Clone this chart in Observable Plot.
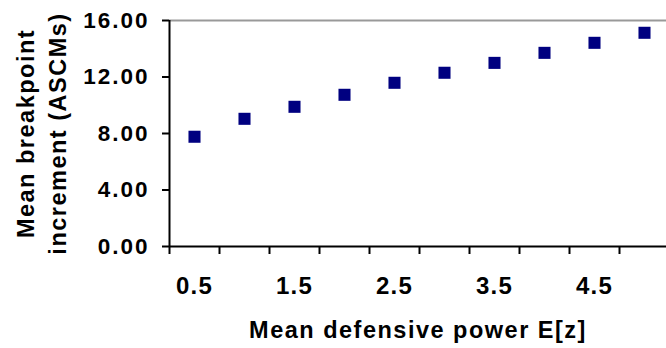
<!DOCTYPE html>
<html>
<head>
<meta charset="utf-8">
<script src="https://cdn.jsdelivr.net/npm/d3@7"></script>
<script src="https://cdn.jsdelivr.net/npm/@observablehq/plot@0.6"></script>
<style>
  html, body { margin: 0; padding: 0; background: #fff; }
</style>
</head>
<body>
<div id="chart"></div>
<script>
const defensivePower = [0.5, 1, 1.5, 2, 2.5, 3, 3.5, 4, 4.5, 5];
const breakpointIncrement = [7.77, 9.04, 9.89, 10.74, 11.59, 12.30, 13.00, 13.71, 14.42, 15.13];
const xTickLabels = [0.5, 1.5, 2.5, 3.5, 4.5];
const xTickMarks = [0.25, 0.75, 1.25, 1.75, 2.25, 2.75, 3.25, 3.75, 4.25, 4.75, 5.25];
const yTicks = [0, 4, 8, 12, 16];
const xTitle = "Mean defensive power E[z]";
const yTitle = "Mean breakpoint\nincrement (ASCMs)";

const data = defensivePower.map((x, i) => ({x, y: breakpointIncrement[i]}));

const chart = Plot.plot({
  width: 666,
  height: 348,
  marginTop: 20,
  marginBottom: 102,
  marginLeft: 169,
  marginRight: 0,
  style: {
    fontFamily: "'Liberation Sans', Arial, sans-serif",
    fontWeight: "bold",
    fontSize: "23px",
    color: "#000",
    background: "#fff",
    overflow: "visible"
  },
  x: {domain: [0.25, 5.25], range: [169, 669]},
  y: {domain: [0, 16], range: [246, 20]},
  marks: [
    Plot.ruleY([16], {stroke: "#999", strokeWidth: 2}),
    Plot.axisY(yTicks, {tickFormat: d3.format(".2f"), tickSize: 7, tickPadding: 13, strokeWidth: 2, label: null, fill: "#000", fontSize: 22.5}),
    Plot.axisX(xTickMarks, {tickFormat: () => "", tickSize: 8, strokeWidth: 2, label: null}),
    Plot.axisX(xTickLabels, {tickFormat: d => d.toFixed(1), tickSize: 0, tickPadding: 30, label: null, fill: "#000", fontSize: 24}),
    Plot.ruleX([0.25], {stroke: "#000", strokeWidth: 2}),
    Plot.ruleY([0], {stroke: "#000", strokeWidth: 2}),
    Plot.dot(data, {x: "x", y: "y", symbol: "square", r: 6.8, fill: "#000080", stroke: null}),
    Plot.text([xTitle], {frameAnchor: "bottom", lineAnchor: "top", dy: 75, fill: "#000", fontSize: 23.5}),
    Plot.text([yTitle], {frameAnchor: "left", rotate: -90, dx: -130, lineHeight: 1.36, fill: "#000", textAnchor: "middle", fontSize: 23.5})
  ]
});
const svg = d3.select(chart);
svg.selectAll('g[aria-label="y-axis tick label"]').style("letter-spacing", "2px");
svg.selectAll('g[aria-label="x-axis tick label"]').style("letter-spacing", "1.2px");
svg.selectAll('g[aria-label="text"]').style("letter-spacing", "1.5px");
document.getElementById("chart").appendChild(chart);
</script>
</body>
</html>
